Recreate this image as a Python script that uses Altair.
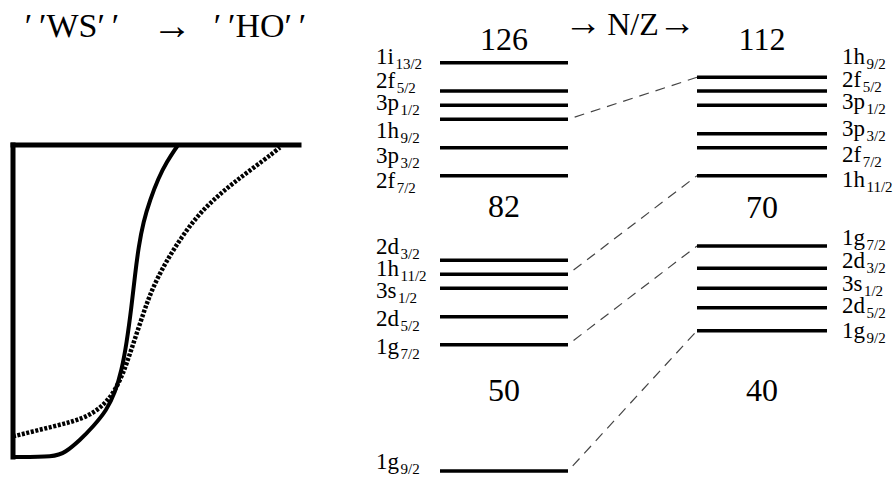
import altair as alt
import pandas as pd

# ---------------- level scheme data ----------------
# Left column (N/Z ~ 1), energies in arbitrary units (higher = less bound)
left_main = ["1i", "2f", "3p", "1h", "3p", "2f", "2d", "1h", "3s", "2d", "1g", "1g"]
left_sub = ["13/2", "5/2", "1/2", "9/2", "3/2", "7/2", "3/2", "11/2", "1/2", "5/2", "7/2", "9/2"]
left_energy = [422.3, 394.0, 379.7, 365.7, 337.3, 309.3, 224.7, 210.7, 196.7, 168.3, 140.3, 14.0]
left_label_energy = [421, 397, 375, 347, 322, 297, 231, 209, 187, 159, 131, 16]

# Right column (large N/Z)
right_main = ["1h", "2f", "3p", "3p", "2f", "1h", "1g", "2d", "3s", "2d", "1g"]
right_sub = ["9/2", "5/2", "1/2", "3/2", "7/2", "11/2", "7/2", "3/2", "1/2", "5/2", "9/2"]
right_energy = [407.7, 394.0, 379.7, 351.3, 337.3, 309.3, 239.0, 216.7, 196.7, 177.3, 154.3]
right_label_energy = [421, 398, 376, 349, 323, 298, 240, 217, 194, 172, 147]

# Shell gaps (magic numbers)
left_magic = ["126", "82", "50"]
left_magic_energy = [435, 268, 84]
right_magic = ["112", "70", "40"]
right_magic_energy = [435, 267, 84]

# Orbitals whose shift is traced between the two columns
traced = ["1h9/2", "1h11/2", "1g7/2", "1g9/2"]

# ---------------- potential well data ----------------
# Woods-Saxon ("WS") and harmonic-oscillator-like ("HO") shapes, r in fm, V in MeV
ws_r = [0, 1.76, 2.18, 2.81, 3.37, 3.93, 4.28, 4.56, 4.77, 4.97, 5.12, 5.27, 5.47, 5.75, 6.10, 6.45, 6.87, 6.92]
ws_v = [-50, -50, -49.3, -47.3, -45.1, -42.5, -39.7, -36.1, -31.7, -26.0, -20.8, -16.3, -12.3, -8.8, -5.3, -2.7, -0.3, 0]
ho_r = [0, 0.85, 1.69, 2.53, 3.23, 3.79, 4.21, 4.56, 4.77, 5.05, 5.33, 5.61, 5.89, 6.31, 6.73, 7.29, 7.85,
        8.55, 9.24, 10.07, 10.91, 11.2]
ho_v = [-46.7, -45.9, -45.1, -44.3, -43.3, -41.7, -39.8, -37.1, -35.0, -31.8, -28.6, -25.4, -22.7, -19.5,
        -16.8, -13.6, -10.9, -8.3, -6.1, -3.7, -1.3, -0.4]
R_MAX = 12
V_DEPTH = -50

# ---------------- layout ----------------
FONT = "Liberation Serif, Times New Roman, serif"
MAIN_SIZE = 23
SUB_SIZE = 15
LEFT_COL = (440, 568)
RIGHT_COL = (697, 827)
LEFT_LABEL_X = 376
RIGHT_LABEL_X = 842

X_FRAME = alt.Scale(domain=[0, 896], range=[0, 896])
Y_FRAME = alt.Scale(domain=[0, 485], range=[485, 0])
R_SCALE = alt.Scale(domain=[0, R_MAX], range=[13, 299])
V_SCALE = alt.Scale(domain=[V_DEPTH, 0], range=[457, 145])

# advance widths (em) of the serif face, used to place subscripts after the main glyphs
ADV = {"1": .5, "2": .5, "3": .5, "i": .278, "f": .333, "p": .5, "h": .5, "d": .5, "s": .389, "g": .5}


def text_width(s, size):
    return sum(ADV[c] for c in s) * size


# ---------------- tables ----------------
levels = pd.DataFrame({
    "x": [LEFT_COL[0]] * len(left_energy) + [RIGHT_COL[0]] * len(right_energy),
    "x2": [LEFT_COL[1]] * len(left_energy) + [RIGHT_COL[1]] * len(right_energy),
    "e": left_energy + right_energy,
})

labels = pd.DataFrame({
    "main": left_main + right_main,
    "sub": left_sub + right_sub,
    "e": left_label_energy + right_label_energy,
    "x0": [LEFT_LABEL_X] * len(left_main) + [RIGHT_LABEL_X] * len(right_main),
})
labels["xs"] = labels["x0"] + labels["main"].map(lambda s: text_width(s, MAIN_SIZE) + 1.5)

magic = pd.DataFrame({
    "t": left_magic + right_magic,
    "e": left_magic_energy + right_magic_energy,
    "x": [sum(LEFT_COL) / 2] * 3 + [sum(RIGHT_COL) / 2] * 3,
})

left_e = {m + s: e for m, s, e in zip(left_main, left_sub, left_energy)}
right_e = {m + s: e for m, s, e in zip(right_main, right_sub, right_energy)}
links = pd.DataFrame({
    "x": [LEFT_COL[1]] * len(traced),
    "x2": [RIGHT_COL[0]] * len(traced),
    "e": [left_e[k] for k in traced],
    "e2": [right_e[k] for k in traced],
})

frame = pd.DataFrame({"r": [0, 0], "r2": [R_MAX, 0], "v": [0, 0], "v2": [0, V_DEPTH]})
ws = pd.DataFrame({"r": ws_r, "v": ws_v})
ho = pd.DataFrame({"r": ho_r, "v": ho_v})

# ---------------- layers ----------------
lvl = alt.Chart(levels).mark_rule(color="black", strokeWidth=3.5).encode(
    x=alt.X("x:Q", scale=X_FRAME, axis=None), x2="x2:Q",
    y=alt.Y("e:Q", scale=Y_FRAME, axis=None))

lnk = alt.Chart(links).mark_rule(color="#444444", strokeWidth=1.2, strokeDash=[10, 7],
                                 strokeDashOffset=10).encode(
    x=alt.X("x:Q", scale=X_FRAME, axis=None), x2="x2:Q",
    y=alt.Y("e:Q", scale=Y_FRAME, axis=None), y2="e2:Q")

lab_main = alt.Chart(labels).mark_text(font=FONT, fontSize=MAIN_SIZE, align="left",
                                       baseline="alphabetic", color="black").encode(
    x=alt.X("x0:Q", scale=X_FRAME, axis=None),
    y=alt.Y("e:Q", scale=Y_FRAME, axis=None), text="main:N")

lab_sub = alt.Chart(labels).mark_text(font=FONT, fontSize=SUB_SIZE, align="left",
                                      baseline="alphabetic", dy=5, color="black").encode(
    x=alt.X("xs:Q", scale=X_FRAME, axis=None),
    y=alt.Y("e:Q", scale=Y_FRAME, axis=None), text="sub:N")

mag = alt.Chart(magic).mark_text(font=FONT, fontSize=32, align="center",
                                 baseline="alphabetic", color="black").encode(
    x=alt.X("x:Q", scale=X_FRAME, axis=None),
    y=alt.Y("e:Q", scale=Y_FRAME, axis=None), text="t:N")

well_frame = alt.Chart(frame).mark_rule(color="black", strokeWidth=5, strokeCap="square").encode(
    x=alt.X("r:Q", scale=R_SCALE, axis=None), x2="r2:Q",
    y=alt.Y("v:Q", scale=V_SCALE, axis=None), y2="v2:Q")

ws_line = alt.Chart(ws).mark_line(color="black", strokeWidth=4, interpolate="basis").encode(
    x=alt.X("r:Q", scale=R_SCALE, axis=None),
    y=alt.Y("v:Q", scale=V_SCALE, axis=None))

ho_line = alt.Chart(ho).mark_line(color="black", strokeWidth=4.5, strokeDash=[3, 1.6],
                                  interpolate="basis").encode(
    x=alt.X("r:Q", scale=R_SCALE, axis=None),
    y=alt.Y("v:Q", scale=V_SCALE, axis=None))

one = pd.DataFrame({"k": [0]})


def note(text, x, y, size):
    return alt.Chart(one).mark_text(text=text, font=FONT, fontSize=size, align="center",
                                    baseline="alphabetic", color="black").encode(
        x=alt.value(x), y=alt.value(y))


PRIMES = "\u2032\u2009\u2032"
titles = [
    note(PRIMES + "WS" + PRIMES, 72, 37, 34),
    note("\u2192", 172, 39, 40),
    note(PRIMES + "HO" + PRIMES, 260, 37, 34),
    note("\u2192", 583, 35, 38),
    note("N/Z", 633, 35, 32),
    note("\u2192", 677, 35, 38),
]

chart = alt.layer(
    well_frame, ho_line, ws_line, lnk, lvl, lab_main, lab_sub, mag, *titles
).resolve_scale(x="independent", y="independent").properties(
    width=896, height=485, padding=0,
    autosize=alt.AutoSizeParams(type="none"),
    background="white",
).configure_view(stroke=None)

chart.save("out.html", embed_options={"renderer": "svg", "actions": False})
